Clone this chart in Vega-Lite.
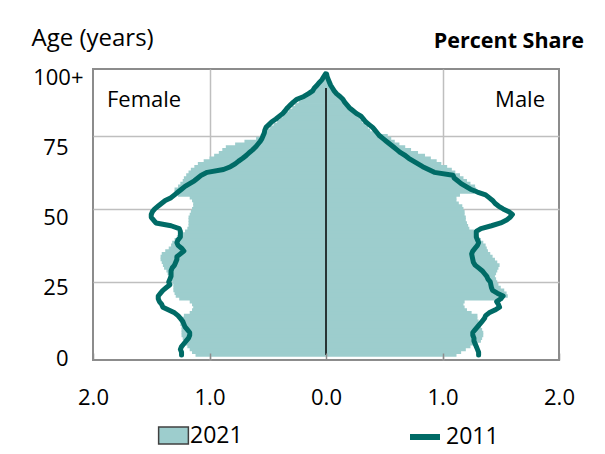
{
  "$schema": "https://vega.github.io/schema/vega-lite/v6.json",
  "width": 466,
  "height": 291,
  "autosize": {"type": "none"},
  "padding": {"left": 93, "top": 69, "right": 46, "bottom": 94},
  "background": "white",
  "config": {"font": "Open Sans", "view": {"stroke": "#8C8C8C", "strokeWidth": 2}},
  "data": {"values": [
    {"age":0,"f21":-1.12,"m21":1.12,"f11":-1.24,"m11":1.31},
    {"age":1,"f21":-1.15,"m21":1.16,"f11":-1.24,"m11":1.31},
    {"age":2,"f21":-1.17,"m21":1.20,"f11":-1.25,"m11":1.30},
    {"age":3,"f21":-1.19,"m21":1.24,"f11":-1.24,"m11":1.29},
    {"age":4,"f21":-1.21,"m21":1.30,"f11":-1.22,"m11":1.28},
    {"age":5,"f21":-1.22,"m21":1.33,"f11":-1.20,"m11":1.27},
    {"age":6,"f21":-1.23,"m21":1.34,"f11":-1.18,"m11":1.27},
    {"age":7,"f21":-1.24,"m21":1.35,"f11":-1.17,"m11":1.26},
    {"age":8,"f21":-1.24,"m21":1.35,"f11":-1.17,"m11":1.26},
    {"age":9,"f21":-1.24,"m21":1.34,"f11":-1.19,"m11":1.28},
    {"age":10,"f21":-1.24,"m21":1.33,"f11":-1.21,"m11":1.30},
    {"age":11,"f21":-1.25,"m21":1.32,"f11":-1.22,"m11":1.32},
    {"age":12,"f21":-1.25,"m21":1.31,"f11":-1.23,"m11":1.34},
    {"age":13,"f21":-1.24,"m21":1.30,"f11":-1.25,"m11":1.36},
    {"age":14,"f21":-1.22,"m21":1.30,"f11":-1.27,"m11":1.37},
    {"age":15,"f21":-1.17,"m21":1.25,"f11":-1.30,"m11":1.40},
    {"age":16,"f21":-1.15,"m21":1.21,"f11":-1.35,"m11":1.45},
    {"age":17,"f21":-1.14,"m21":1.19,"f11":-1.40,"m11":1.49},
    {"age":18,"f21":-1.15,"m21":1.18,"f11":-1.41,"m11":1.48},
    {"age":19,"f21":-1.17,"m21":1.19,"f11":-1.43,"m11":1.465},
    {"age":20,"f21":-1.26,"m21":1.52,"f11":-1.44,"m11":1.50},
    {"age":21,"f21":-1.29,"m21":1.56,"f11":-1.44,"m11":1.52},
    {"age":22,"f21":-1.30,"m21":1.55,"f11":-1.42,"m11":1.47},
    {"age":23,"f21":-1.31,"m21":1.53,"f11":-1.40,"m11":1.43},
    {"age":24,"f21":-1.31,"m21":1.50,"f11":-1.37,"m11":1.42},
    {"age":25,"f21":-1.31,"m21":1.48,"f11":-1.34,"m11":1.415},
    {"age":26,"f21":-1.32,"m21":1.47,"f11":-1.35,"m11":1.41},
    {"age":27,"f21":-1.34,"m21":1.46,"f11":-1.34,"m11":1.39},
    {"age":28,"f21":-1.35,"m21":1.45,"f11":-1.33,"m11":1.38},
    {"age":29,"f21":-1.36,"m21":1.46,"f11":-1.33,"m11":1.36},
    {"age":30,"f21":-1.37,"m21":1.47,"f11":-1.33,"m11":1.34},
    {"age":31,"f21":-1.39,"m21":1.48,"f11":-1.32,"m11":1.31},
    {"age":32,"f21":-1.40,"m21":1.49,"f11":-1.30,"m11":1.28},
    {"age":33,"f21":-1.41,"m21":1.47,"f11":-1.29,"m11":1.265},
    {"age":34,"f21":-1.42,"m21":1.45,"f11":-1.28,"m11":1.26},
    {"age":35,"f21":-1.42,"m21":1.43,"f11":-1.28,"m11":1.255},
    {"age":36,"f21":-1.41,"m21":1.41,"f11":-1.25,"m11":1.25},
    {"age":37,"f21":-1.38,"m21":1.39,"f11":-1.22,"m11":1.26},
    {"age":38,"f21":-1.35,"m21":1.38,"f11":-1.24,"m11":1.28},
    {"age":39,"f21":-1.33,"m21":1.37,"f11":-1.27,"m11":1.30},
    {"age":40,"f21":-1.32,"m21":1.35,"f11":-1.28,"m11":1.31},
    {"age":41,"f21":-1.30,"m21":1.33,"f11":-1.27,"m11":1.30},
    {"age":42,"f21":-1.28,"m21":1.31,"f11":-1.25,"m11":1.29},
    {"age":43,"f21":-1.25,"m21":1.30,"f11":-1.25,"m11":1.29},
    {"age":44,"f21":-1.21,"m21":1.27,"f11":-1.25,"m11":1.29},
    {"age":45,"f21":-1.19,"m21":1.23,"f11":-1.26,"m11":1.33},
    {"age":46,"f21":-1.18,"m21":1.22,"f11":-1.33,"m11":1.42},
    {"age":47,"f21":-1.18,"m21":1.21,"f11":-1.46,"m11":1.50},
    {"age":48,"f21":-1.18,"m21":1.20,"f11":-1.48,"m11":1.55},
    {"age":49,"f21":-1.18,"m21":1.20,"f11":-1.50,"m11":1.58},
    {"age":50,"f21":-1.17,"m21":1.19,"f11":-1.50,"m11":1.60},
    {"age":51,"f21":-1.16,"m21":1.19,"f11":-1.49,"m11":1.57},
    {"age":52,"f21":-1.15,"m21":1.18,"f11":-1.47,"m11":1.52},
    {"age":53,"f21":-1.14,"m21":1.17,"f11":-1.44,"m11":1.48},
    {"age":54,"f21":-1.14,"m21":1.14,"f11":-1.41,"m11":1.45},
    {"age":55,"f21":-1.15,"m21":1.12,"f11":-1.38,"m11":1.43},
    {"age":56,"f21":-1.17,"m21":1.12,"f11":-1.33,"m11":1.40},
    {"age":57,"f21":-1.27,"m21":1.15,"f11":-1.30,"m11":1.37},
    {"age":58,"f21":-1.30,"m21":1.27,"f11":-1.27,"m11":1.30},
    {"age":59,"f21":-1.30,"m21":1.29,"f11":-1.24,"m11":1.24},
    {"age":60,"f21":-1.27,"m21":1.28,"f11":-1.21,"m11":1.20},
    {"age":61,"f21":-1.25,"m21":1.24,"f11":-1.17,"m11":1.16},
    {"age":62,"f21":-1.23,"m21":1.21,"f11":-1.13,"m11":1.13},
    {"age":63,"f21":-1.22,"m21":1.18,"f11":-1.10,"m11":1.10},
    {"age":64,"f21":-1.20,"m21":1.15,"f11":-1.07,"m11":1.09},
    {"age":65,"f21":-1.18,"m21":1.11,"f11":-1.02,"m11":0.93},
    {"age":66,"f21":-1.16,"m21":1.08,"f11":-0.88,"m11":0.88},
    {"age":67,"f21":-1.13,"m21":1.04,"f11":-0.82,"m11":0.83},
    {"age":68,"f21":-1.10,"m21":0.99,"f11":-0.78,"m11":0.79},
    {"age":69,"f21":-1.05,"m21":0.95,"f11":-0.75,"m11":0.75},
    {"age":70,"f21":-1.00,"m21":0.90,"f11":-0.715,"m11":0.71},
    {"age":71,"f21":-0.96,"m21":0.85,"f11":-0.685,"m11":0.68},
    {"age":72,"f21":-0.92,"m21":0.79,"f11":-0.66,"m11":0.64},
    {"age":73,"f21":-0.89,"m21":0.73,"f11":-0.63,"m11":0.61},
    {"age":74,"f21":-0.86,"m21":0.68,"f11":-0.605,"m11":0.58},
    {"age":75,"f21":-0.78,"m21":0.63,"f11":-0.585,"m11":0.55},
    {"age":76,"f21":-0.70,"m21":0.59,"f11":-0.565,"m11":0.52},
    {"age":77,"f21":-0.60,"m21":0.56,"f11":-0.55,"m11":0.49},
    {"age":78,"f21":-0.56,"m21":0.53,"f11":-0.54,"m11":0.46},
    {"age":79,"f21":-0.53,"m21":0.45,"f11":-0.53,"m11":0.44},
    {"age":80,"f21":-0.50,"m21":0.38,"f11":-0.525,"m11":0.42},
    {"age":81,"f21":-0.48,"m21":0.36,"f11":-0.515,"m11":0.40},
    {"age":82,"f21":-0.45,"m21":0.34,"f11":-0.49,"m11":0.37},
    {"age":83,"f21":-0.42,"m21":0.31,"f11":-0.465,"m11":0.34},
    {"age":84,"f21":-0.40,"m21":0.29,"f11":-0.43,"m11":0.32},
    {"age":85,"f21":-0.37,"m21":0.27,"f11":-0.40,"m11":0.30},
    {"age":86,"f21":-0.35,"m21":0.25,"f11":-0.37,"m11":0.26},
    {"age":87,"f21":-0.32,"m21":0.22,"f11":-0.35,"m11":0.23},
    {"age":88,"f21":-0.29,"m21":0.195,"f11":-0.33,"m11":0.20},
    {"age":89,"f21":-0.265,"m21":0.175,"f11":-0.305,"m11":0.18},
    {"age":90,"f21":-0.235,"m21":0.155,"f11":-0.28,"m11":0.16},
    {"age":91,"f21":-0.21,"m21":0.135,"f11":-0.25,"m11":0.145},
    {"age":92,"f21":-0.18,"m21":0.115,"f11":-0.19,"m11":0.12},
    {"age":93,"f21":-0.145,"m21":0.095,"f11":-0.15,"m11":0.09},
    {"age":94,"f21":-0.115,"m21":0.075,"f11":-0.115,"m11":0.07},
    {"age":95,"f21":-0.09,"m21":0.06,"f11":-0.10,"m11":0.055},
    {"age":96,"f21":-0.07,"m21":0.045,"f11":-0.077,"m11":0.04},
    {"age":97,"f21":-0.05,"m21":0.03,"f11":-0.057,"m11":0.03},
    {"age":98,"f21":-0.035,"m21":0.02,"f11":-0.034,"m11":0.02},
    {"age":99,"f21":-0.02,"m21":0.012,"f11":-0.02,"m11":0.01},
    {"age":100,"f21":-0.01,"m21":0.005,"f11":-0.005,"m11":0.005}
  ]},
  "layer": [
    {
      "transform": [{"fold": ["f21", "m21"], "as": ["k", "v"]}],
      "mark": {"type": "bar", "orient": "horizontal", "size": 3.6, "clip": true},
      "encoding": {
        "y": {"field": "age", "type": "quantitative",
              "scale": {"domain": [0, 100], "nice": false, "zero": false},
              "axis": {"orient": "left", "grid": true, "values": [26, 52, 78], "labels": false, "ticks": false, "domain": false, "title": null, "gridColor": "#BFBFBF", "gridWidth": 1.5, "zindex": 0}},
        "x": {"field": "v", "type": "quantitative",
              "scale": {"domain": [-2, 2], "nice": false, "zero": false},
              "axis": {"orient": "bottom", "grid": true, "values": [-1, 1], "labels": false, "ticks": false, "domain": false, "title": null, "gridColor": "#BFBFBF", "gridWidth": 1.5, "zindex": 0}},
        "x2": {"datum": 0},
        "fill": {"datum": "2021", "scale": {"range": ["#9DCDCD"]},
                 "legend": {"orient": "none", "legendX": 69, "legendY": 355, "title": null, "padding": 0,
                            "symbolType": "M-1.75,-1L1.75,-1L1.75,1L-1.75,1Z", "symbolSize": 289,
                            "symbolStrokeColor": "#404040", "symbolStrokeWidth": 1.5,
                            "labelFontSize": 23, "labelColor": "#000000", "labelOffset": 5, "labelFont": "Open Sans"}}
      }
    },
    {
      "data": {"values": [{}]},
      "mark": {"type": "rule", "color": "#000000", "strokeWidth": 1.5},
      "encoding": {
        "x": {"datum": 0, "axis": null},
        "y": {"datum": 0, "axis": null},
        "y2": {"datum": 95}
      }
    },
    {
      "transform": [{"fold": ["f11", "m11"], "as": ["k", "v"]}],
      "mark": {"type": "line", "strokeWidth": 5, "strokeJoin": "round", "strokeCap": "round"},
      "encoding": {
        "x": {"field": "v", "type": "quantitative",
              "axis": {"orient": "bottom", "values": [-2, -1, 0, 1, 2], "labelExpr": "format(abs(datum.value), '.1f')",
                       "grid": false, "domain": false, "ticks": true, "tickSize": -7, "tickColor": "#8C8C8C", "tickWidth": 1.5,
                       "labelFontSize": 22, "labelColor": "#000000", "labelPadding": 44, "labelFlush": false, "labelBaseline": "middle",
                       "title": null, "zindex": 1}},
        "y": {"field": "age", "type": "quantitative",
              "axis": {"orient": "left", "values": [0, 25, 50, 75, 100], "labelExpr": "datum.value == 100 ? '100+' : datum.label",
                       "grid": false, "ticks": false, "domain": false, "labelFlush": false,
                       "labelPadding": {"condition": {"test": "datum.value == 100", "value": 10}, "value": 25},
                       "labelFontSize": 22, "labelColor": "#000000", "labelOffset": 3, "labelBaseline": "middle",
                       "title": "Age (years)", "titleAngle": 0, "titleAlign": "left", "titleBaseline": "middle",
                       "titleX": -62, "titleY": -31, "titleFontSize": 24, "titleFontWeight": "normal", "titleColor": "#000000", "titleFont": "Open Sans"}},
        "detail": {"field": "k"},
        "order": {"field": "age", "type": "quantitative"},
        "stroke": {"datum": "2011", "scale": {"range": ["#006B66"]},
                   "legend": {"orient": "none", "legendX": 314, "legendY": 350, "title": null, "padding": 0,
                              "symbolType": "stroke", "symbolSize": 900, "symbolStrokeWidth": 6,
                              "labelFontSize": 23, "labelColor": "#000000", "labelOffset": 3, "labelFont": "Open Sans"}}
      }
    },
    {
      "data": {"values": [{}]},
      "mark": {"type": "text", "text": "Female", "align": "left", "baseline": "middle", "fontSize": 22, "color": "#000000"},
      "encoding": {"x": {"datum": -1.88, "axis": null}, "y": {"datum": 90.7, "axis": null}}
    },
    {
      "data": {"values": [{}]},
      "mark": {"type": "text", "text": "Male", "align": "right", "baseline": "middle", "fontSize": 22, "color": "#000000"},
      "encoding": {"x": {"datum": 1.88, "axis": null}, "y": {"datum": 90.7, "axis": null}}
    },
    {
      "data": {"values": [{}]},
      "mark": {"type": "text", "text": "Percent Share", "align": "right", "baseline": "middle", "fontSize": 21.5, "fontWeight": "bold", "color": "#000000"},
      "encoding": {"x": {"datum": 2.215, "axis": null}, "y": {"datum": 111.5, "axis": null}}
    }
  ],
  "resolve": {"axis": {"x": "independent", "y": "independent"}}
}
